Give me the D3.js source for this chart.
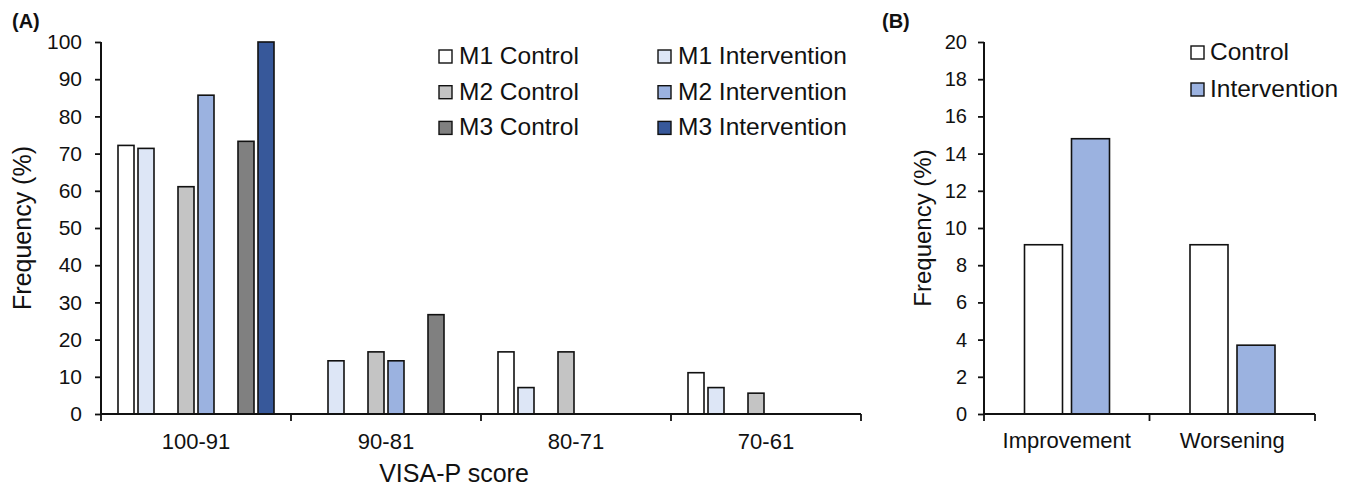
<!DOCTYPE html>
<html>
<head>
<meta charset="utf-8">
<script src="https://cdn.jsdelivr.net/npm/d3@7"></script>
<style>
  body { margin: 0; background: #fff; }
  svg text { font-family: "Liberation Sans", Arial, sans-serif; fill: #111; }
</style>
</head>
<body>
<div id="chart"></div>
<script>
// data ------------------------------------------------------------
const scoreBands = ["100-91", "90-81", "80-71", "70-61"];
const seriesA = ["M1 Control", "M1 Intervention", "M2 Control", "M2 Intervention", "M3 Control", "M3 Intervention"];
const m1Control      = [72.2, 0,    16.7, 11.1];
const m1Intervention = [71.4, 14.3, 7.1,  7.1];
const m2Control      = [61.1, 16.7, 16.7, 5.6];
const m2Intervention = [85.7, 14.3, 0,    0];
const m3Control      = [73.3, 26.7, 0,    0];
const m3Intervention = [100,  0,    0,    0];
const yTicksA = [0, 10, 20, 30, 40, 50, 60, 70, 80, 90, 100];

const changeCats = ["Improvement", "Worsening"];
const seriesB = ["Control", "Intervention"];
const controlB      = [9.1, 9.1];
const interventionB = [14.8, 3.7];
const yTicksB = [0, 2, 4, 6, 8, 10, 12, 14, 16, 18, 20];

const colorsA = {
  "M1 Control": "#ffffff", "M1 Intervention": "#dde6f6",
  "M2 Control": "#c4c4c4", "M2 Intervention": "#9bb2e0",
  "M3 Control": "#808080", "M3 Intervention": "#37589a"
};
const colorsB = { "Control": "#ffffff", "Intervention": "#9bb2e0" };

// svg -------------------------------------------------------------
const svg = d3.select("#chart").append("svg")
  .attr("width", 1357)
  .attr("height", 487);

const valuesA = [m1Control, m1Intervention, m2Control, m2Intervention, m3Control, m3Intervention];
const rowsA = [];
scoreBands.forEach((c, i) => {
  seriesA.forEach((s, j) => rowsA.push({ cat: c, series: s, value: valuesA[j][i] }));
});
const valuesB = [controlB, interventionB];
const rowsB = [];
changeCats.forEach((c, i) => {
  seriesB.forEach((s, j) => rowsB.push({ cat: c, series: s, value: valuesB[j][i] }));
});

// helper to draw axes in the Excel look
function drawAxes(g, x0, y, ticks, tickPad, fontY) {
  const yAxis = g.append("g")
    .attr("transform", `translate(${x0.range()[0]},0)`)
    .call(d3.axisLeft(y).tickValues(ticks).tickSize(6).tickSizeOuter(0).tickPadding(tickPad));
  yAxis.select(".domain").remove();
  yAxis.selectAll("line").attr("stroke", "#111").attr("stroke-width", 1.8);
  yAxis.selectAll("text").attr("font-size", fontY).style("fill", "#111");
  g.append("line")
    .attr("x1", x0.range()[0]).attr("x2", x0.range()[0])
    .attr("y1", y.range()[1]).attr("y2", y.range()[0])
    .attr("stroke", "#111").attr("stroke-width", 2);

  g.append("line")
    .attr("x1", x0.range()[0]).attr("x2", x0.range()[1])
    .attr("y1", y(0)).attr("y2", y(0))
    .attr("stroke", "#111").attr("stroke-width", 2);
  const bounds = x0.domain().map(d => x0(d)).concat([x0.range()[1]]);
  g.selectAll(".xtick").data(bounds).enter().append("line")
    .attr("x1", d => d).attr("x2", d => d)
    .attr("y1", y(0)).attr("y2", y(0) + 7)
    .attr("stroke", "#111").attr("stroke-width", 1.8);
}

// Panel A ---------------------------------------------------------
const gA = svg.append("g");
const xA = d3.scaleBand().domain(scoreBands).range([101, 861]);
const slots = ["M1 Control", "M1 Intervention", "gap1", "M2 Control", "M2 Intervention", "gap2", "M3 Control", "M3 Intervention"];
const xA1 = d3.scaleBand().domain(slots).range([15, 175]);
const yA = d3.scaleLinear().domain([0, 100]).range([414, 42]);

gA.append("g").selectAll("rect")
  .data(rowsA.filter(d => d.value > 0))
  .enter().append("rect")
  .attr("x", d => xA(d.cat) + xA1(d.series) + 2)
  .attr("width", xA1.bandwidth() - 4)
  .attr("y", d => yA(d.value))
  .attr("height", d => yA(0) - yA(d.value))
  .attr("fill", d => colorsA[d.series])
  .attr("stroke", "#111")
  .attr("stroke-width", 1.6);

drawAxes(gA, xA, yA, yTicksA, 13, "21px");

gA.selectAll(".xlab").data(scoreBands).enter().append("text")
  .attr("x", d => xA(d) + xA.bandwidth() / 2)
  .attr("y", 449)
  .attr("text-anchor", "middle")
  .attr("font-size", "22px")
  .text(d => d);

gA.append("text")
  .attr("x", 454).attr("y", 482)
  .attr("text-anchor", "middle")
  .attr("font-size", "25px")
  .text("VISA-P score");

gA.append("text")
  .attr("transform", `translate(31,${(yA(0) + yA(100)) / 2}) rotate(-90)`)
  .attr("text-anchor", "middle")
  .attr("font-size", "25px")
  .text("Frequency (%)");

gA.append("text")
  .attr("x", 12).attr("y", 28)
  .attr("font-size", "20px")
  .attr("font-weight", "bold")
  .text("(A)");

// legend A: two columns, three rows
const legA = gA.append("g");
seriesA.forEach((s, i) => {
  const col = i % 2, row = Math.floor(i / 2);
  const lx = col === 0 ? 439 : 658;
  const ly = 50 + row * 35.7;
  legA.append("rect")
    .attr("x", lx).attr("y", ly)
    .attr("width", 13).attr("height", 13)
    .attr("fill", colorsA[s]).attr("stroke", "#111").attr("stroke-width", 1.4);
  legA.append("text")
    .attr("x", lx + 20).attr("y", ly + 14)
    .attr("font-size", "24.5px")
    .text(s);
});

// Panel B ---------------------------------------------------------
const gB = svg.append("g");
const xB = d3.scaleBand().domain(changeCats).range([984, 1315]);
const xB1 = d3.scaleBand().domain(seriesB).range([36, 130]);
const yB = d3.scaleLinear().domain([0, 20]).range([414, 42]);

gB.append("g").selectAll("rect")
  .data(rowsB.filter(d => d.value > 0))
  .enter().append("rect")
  .attr("x", d => xB(d.cat) + xB1(d.series) + 4.5)
  .attr("width", xB1.bandwidth() - 9)
  .attr("y", d => yB(d.value))
  .attr("height", d => yB(0) - yB(d.value))
  .attr("fill", d => colorsB[d.series])
  .attr("stroke", "#111")
  .attr("stroke-width", 1.6);

drawAxes(gB, xB, yB, yTicksB, 11, "20px");

gB.selectAll(".xlab").data(changeCats).enter().append("text")
  .attr("x", d => xB(d) + xB.bandwidth() / 2)
  .attr("y", 448)
  .attr("text-anchor", "middle")
  .attr("font-size", "22px")
  .text(d => d);

gB.append("text")
  .attr("transform", `translate(931,${(yB(0) + yB(20)) / 2}) rotate(-90)`)
  .attr("text-anchor", "middle")
  .attr("font-size", "24px")
  .text("Frequency (%)");

gB.append("text")
  .attr("x", 882).attr("y", 28)
  .attr("font-size", "20px")
  .attr("font-weight", "bold")
  .text("(B)");

const legB = gB.append("g");
seriesB.forEach((s, i) => {
  const ly = 46 + i * 37;
  legB.append("rect")
    .attr("x", 1191).attr("y", ly)
    .attr("width", 13).attr("height", 13)
    .attr("fill", colorsB[s]).attr("stroke", "#111").attr("stroke-width", 1.4);
  legB.append("text")
    .attr("x", 1210).attr("y", ly + 14)
    .attr("font-size", "24.5px")
    .text(s);
});
</script>
</body>
</html>
